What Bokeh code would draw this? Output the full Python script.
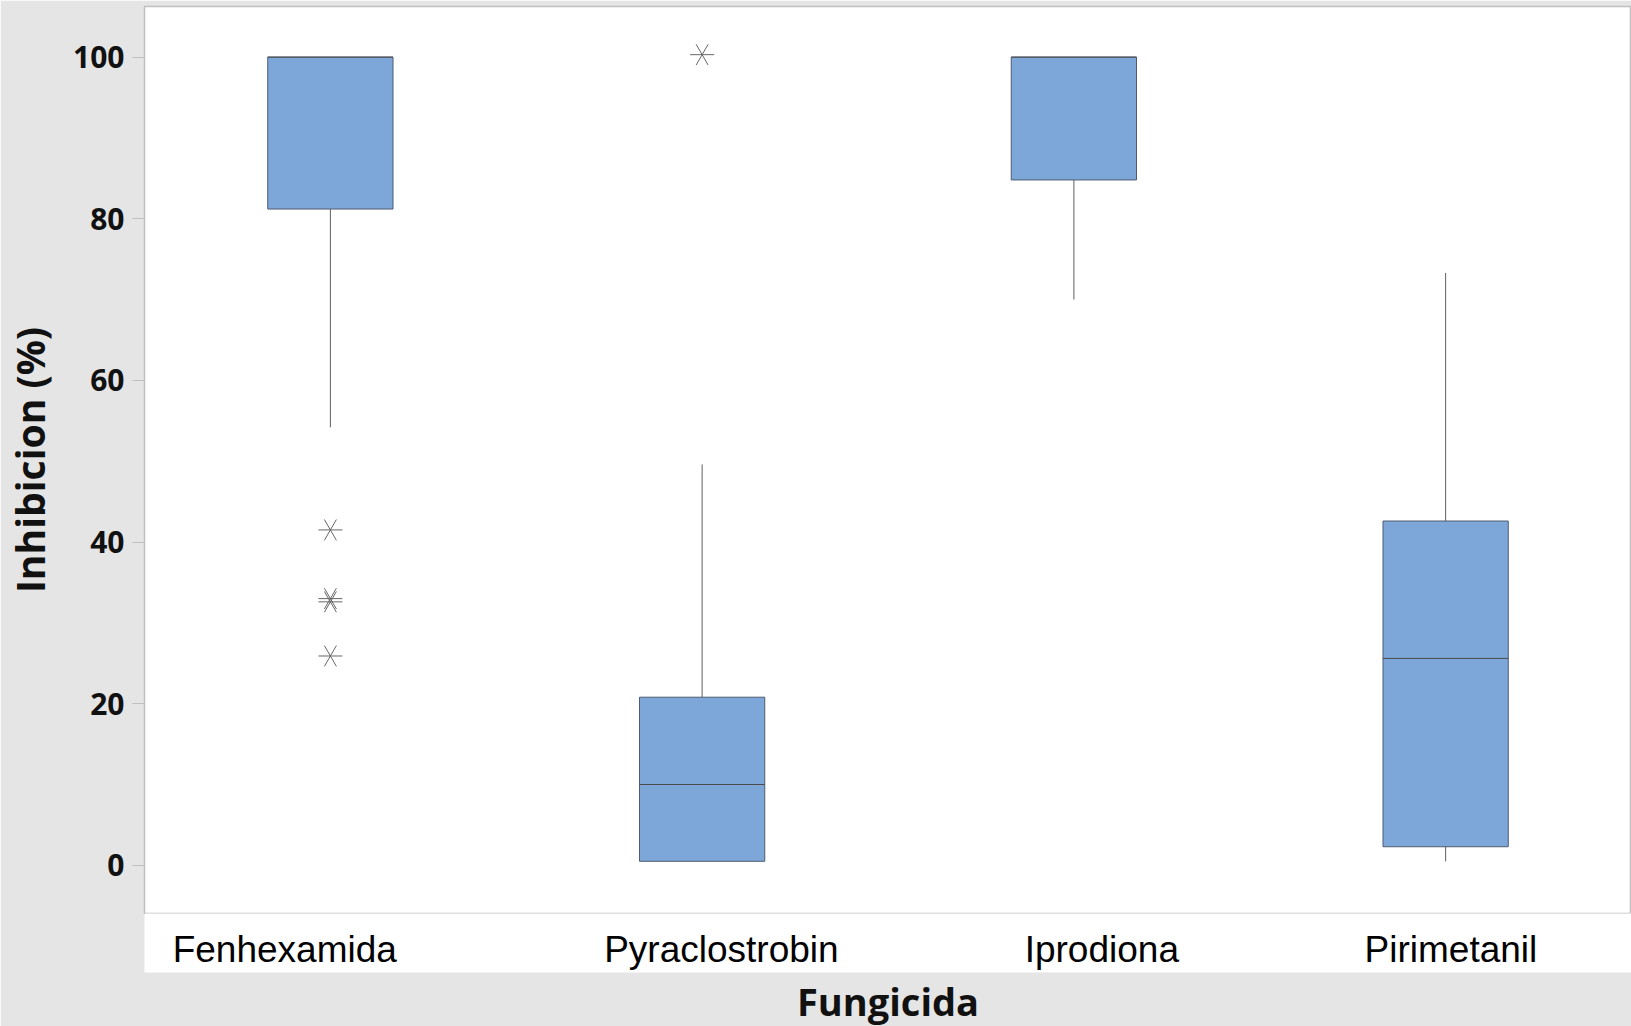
import math
from bokeh.plotting import figure
from bokeh.models import Range1d, FixedTicker, Title, ColumnDataSource
from bokeh.transform import dodge
from bokeh.embed import file_html
from bokeh.resources import INLINE

# ---- data ----
cats = ["Fenhexamida", "Pyraclostrobin", "Iprodiona", "Pirimetanil"]
q1 = [81.2, 0.5, 84.8, 2.3]
med = [100.0, 10.0, 100.0, 25.6]
q3 = [100.0, 20.8, 100.0, 42.6]
whisk_lo = [54.2, 0.5, 70.0, 0.5]
whisk_hi = [100.0, 49.6, 100.0, 73.3]
out_cat = ["Fenhexamida", "Fenhexamida", "Fenhexamida", "Fenhexamida", "Pyraclostrobin"]
out_val = [41.5, 33.0, 32.6, 25.9, 100.3]
y_ticks = [0, 20, 40, 60, 80, 100]

# ---- layout / style ----
W, H = 1631, 1026
LEFT = 142
TOP = 6
BOTTOM = 111
label_dx = [-45.7, 19.3, 28.0, 5.3]  # horizontal offset (px) of each category label
box_w = 0.337
GRAY_BG = "#e5e5e5"
FRAME = "#bfbfbf"

# category slots on a numeric axis (slot i centred at i + 0.5)
xpos = [i + 0.5 for i in range(len(cats))]
slot = {c: x for c, x in zip(cats, xpos)}
out_x = [slot[c] for c in out_cat]

p = figure(x_range=Range1d(0, len(cats)), y_range=Range1d(-5.96, 106.26), width=W, height=H,
           output_backend="svg", toolbar_location=None,
           min_border_left=LEFT, min_border_right=0, min_border_top=TOP,
           min_border_bottom=BOTTOM)
p.border_fill_color = GRAY_BG
p.background_fill_color = "white"
p.outline_line_color = FRAME
p.outline_line_width = 1.5
p.xgrid.visible = False
p.ygrid.visible = False

src = ColumnDataSource(dict(x=xpos, cat=cats, q1=q1, med=med, q3=q3, lo=whisk_lo, hi=whisk_hi))

# whiskers
p.segment(x0="x", x1="x", y0="q1", y1="lo", source=src, line_color="#5f5f5f", line_width=1)
p.segment(x0="x", x1="x", y0="q3", y1="hi", source=src, line_color="#5f5f5f", line_width=1)
# boxes
p.vbar(x="x", top="q3", bottom="q1", width=box_w, source=src,
       fill_color="#7ea7d9", line_color="#4e5b70", line_width=1)
# medians
p.segment(x0=dodge("x", -box_w / 2), x1=dodge("x", box_w / 2),
          y0="med", y1="med", source=src, line_color="#4a4a4a", line_width=1)
# outliers: 6-armed asterisks
for ang in (0.0, math.pi / 3, 2 * math.pi / 3):
    p.scatter(out_x, out_val, marker="dash", size=24, angle=ang,
              line_color="#666666", line_width=1)

# y axis
ya = p.yaxis[0]
ya.ticker = FixedTicker(ticks=y_ticks)
ya.axis_line_color = FRAME
ya.major_tick_out = 12
ya.major_tick_in = 0
ya.major_tick_line_color = FRAME
ya.minor_tick_line_color = None
ya.major_label_standoff = 8
ya.major_label_text_font = "Open Sans"
ya.major_label_text_font_size = "30px"
ya.major_label_text_font_style = "bold"
ya.major_label_text_color = "#111111"
ya.axis_label = "Inhibicion (%)"
ya.axis_label_text_font = "Open Sans"
ya.axis_label_text_font_size = "39px"
ya.axis_label_text_font_style = "bold"
ya.axis_label_text_color = "#111111"
ya.axis_label_standoff = 14

# category labels (offset as in the reference)
ppu = (W - LEFT) / len(cats)
lab_ticks = [round(x + dx / ppu, 6) for x, dx in zip(xpos, label_dx)]
xa = p.xaxis[0]
xa.ticker = FixedTicker(ticks=lab_ticks)
xa.major_label_overrides = {t: c for t, c in zip(lab_ticks, cats)}
xa.axis_line_color = None
xa.major_tick_line_color = None
xa.minor_tick_line_color = None
xa.major_label_standoff = 9
xa.major_label_text_font = "Liberation Sans"
xa.major_label_text_font_size = "37px"
xa.major_label_text_color = "black"
xa.background_fill_color = "white"

t = Title(text="Fungicida", align="center", text_font="Open Sans", text_font_size="38px",
          text_font_style="bold", text_color="#111111", standoff=0)
p.add_layout(t, "below")

open("out.html", "w").write(file_html(p, INLINE))
